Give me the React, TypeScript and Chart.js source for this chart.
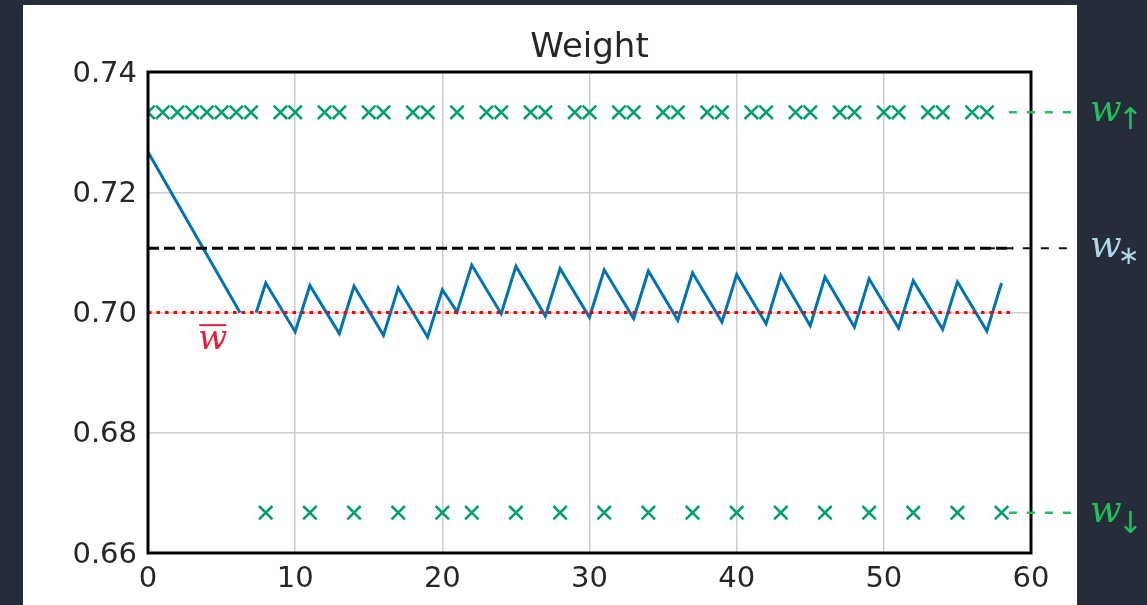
import React, { useEffect, useRef } from "react";
import { Chart, registerables } from "chart.js";

Chart.register(...registerables);

// Weight trajectory (x = step, y = weight); null y breaks the line
const weightX = [0, 6.25, 6.8, 7.35, 8, 10, 11, 13, 14, 16, 17, 19, 20, 21, 22, 24, 25, 27, 28, 30, 31, 33, 34, 36, 37, 39, 40, 42, 43, 45, 46, 48, 49, 51, 52, 54, 55, 57, 58];
const weightY: (number | null)[] = [0.7267, 0.7, null, 0.7, 0.7049, 0.6968, 0.7045, 0.6965, 0.7044, 0.6962, 0.7041, 0.6959, 0.7038, 0.7001, 0.7079, 0.6998, 0.7077, 0.6994, 0.7073, 0.6992, 0.7071, 0.699, 0.7069, 0.6987, 0.7066, 0.6984, 0.7063, 0.6981, 0.7062, 0.6978, 0.7059, 0.6976, 0.7056, 0.6974, 0.7053, 0.6972, 0.7051, 0.6969, 0.7049];

// Steps where weight goes up / down
const upSteps = [0, 1, 2, 3, 4, 5, 6, 7, 9, 10, 12, 13, 15, 16, 18, 19, 21, 23, 24, 26, 27, 29, 30, 32, 33, 35, 36, 38, 39, 41, 42, 44, 45, 47, 48, 50, 51, 53, 54, 56, 57];
const downSteps = [8, 11, 14, 17, 20, 22, 25, 28, 31, 34, 37, 40, 43, 46, 49, 52, 55, 58];

// Reference levels
const wUp = 0.7333;
const wDown = 0.6667;
const wStar = 0.7107;
const wBar = 0.7;
const refLineX = [0, 58.8];

// Axis
const xMin = 0, xMax = 60, xStep = 10;
const yMin = 0.66, yMax = 0.74, yStep = 0.02;
const titleText = "Weight";

// annotation anchors (data coords)
const wBarLabelX = 4.4;
const wBarLabelY = 0.6939;
const greenAnnotStartX = 58.5;
const starAnnotStartX = 57.0;

const BG = "#262c3a";
const TXT = "#262626";
const GREEN_LABEL = "#1ec25a";
const MARK = "#029e73";

export default function App() {
  const ref = useRef<HTMLCanvasElement>(null);
  useEffect(() => {
    document.body.style.margin = "0";
    document.body.style.background = BG;
    const canvas = ref.current!;
    const panelPlugin = {
      id: "panel",
      beforeDraw(chart: any) {
        const ctx = chart.ctx;
        ctx.save();
        ctx.fillStyle = BG;
        ctx.fillRect(0, 0, chart.width, chart.height);
        ctx.fillStyle = "#ffffff";
        ctx.fillRect(23, 5, 1077 - 23, chart.height - 5);
        ctx.restore();
      },
      afterDatasetsDraw(chart: any) {
        const { ctx, chartArea: a } = chart;
        ctx.save();
        ctx.strokeStyle = "#000";
        ctx.lineWidth = 3;
        ctx.strokeRect(a.left, a.top, a.right - a.left, a.bottom - a.top);
        ctx.restore();
      },
      afterDraw(chart: any) {
        const { ctx, chartArea: a, scales } = chart;
        const xs = scales.x, ys = scales.y;
        ctx.save();
        // title
        ctx.fillStyle = TXT;
        ctx.font = "34px 'DejaVu Sans'";
        ctx.textAlign = "center";
        ctx.textBaseline = "middle";
        ctx.fillText(titleText, (a.left + a.right) / 2, 48);

        const endX = 1074;
        // green annotation lines
        ctx.setLineDash([8, 10]);
        ctx.lineWidth = 2.5;
        ctx.strokeStyle = GREEN_LABEL;
        for (const v of [wUp, wDown]) {
          const y = ys.getPixelForValue(v);
          ctx.beginPath();
          ctx.moveTo(xs.getPixelForValue(greenAnnotStartX), y);
          ctx.lineTo(endX, y);
          ctx.stroke();
        }
        // thin black annotation
        ctx.strokeStyle = "#111";
        ctx.lineWidth = 2;
        {
          const y = ys.getPixelForValue(wStar);
          ctx.beginPath();
          ctx.moveTo(xs.getPixelForValue(starAnnotStartX), y);
          ctx.lineTo(endX, y);
          ctx.stroke();
        }
        ctx.setLineDash([]);

        // right labels
        const labelX = 1090;
        const drawW = (v: number, color: string, sub: string, subFont: string, subDy: number) => {
          const y = ys.getPixelForValue(v);
          ctx.fillStyle = color;
          ctx.font = "italic 37px 'DejaVu Serif'";
          ctx.textAlign = "left";
          ctx.textBaseline = "alphabetic";
          ctx.fillText("w", labelX, y + 9);
          const wWidth = ctx.measureText("w").width;
          ctx.font = subFont;
          ctx.textBaseline = "middle";
          ctx.fillText(sub, labelX + wWidth - 4, y + subDy);
        };
        drawW(wUp, GREEN_LABEL, "↑", "30px 'DejaVu Sans'", 9);
        drawW(wStar, "#add8e6", "∗", "26px 'DejaVu Sans'", 9);
        drawW(wDown, GREEN_LABEL, "↓", "30px 'DejaVu Sans'", 12);

        // w-bar label
        {
          const cx = xs.getPixelForValue(wBarLabelX);
          const by = ys.getPixelForValue(wBarLabelY);
          ctx.fillStyle = "#e0203a";
          ctx.strokeStyle = "#e0203a";
          ctx.font = "italic 34px 'DejaVu Serif'";
          ctx.textAlign = "center";
          ctx.textBaseline = "alphabetic";
          ctx.fillText("w", cx, by);
          const w = ctx.measureText("w").width;
          ctx.lineWidth = 2;
          ctx.beginPath();
          ctx.moveTo(cx - w / 2 + 1, by - 24);
          ctx.lineTo(cx + w / 2 - 1, by - 24);
          ctx.stroke();
        }
        ctx.restore();
      },
    };

    const weightData = weightX.map((x, i) => ({ x, y: weightY[i] }));
    const upData = upSteps.map((x) => ({ x, y: wUp }));
    const downData = downSteps.map((x) => ({ x, y: wDown }));
    const barData = refLineX.map((x) => ({ x, y: wBar }));
    const starData = refLineX.map((x) => ({ x, y: wStar }));

    const tickFont = { family: "'DejaVu Sans'", size: 29 };
    const chart = new Chart(canvas, {
      type: "line",
      data: {
        datasets: [
          { data: barData, borderColor: "#ff0000", borderWidth: 3, borderDash: [3.5, 5], pointRadius: 0, borderCapStyle: "butt" } as any,
          { data: starData, borderColor: "#000000", borderWidth: 3, borderDash: [11, 5], pointRadius: 0 } as any,
          { data: weightData, borderColor: "#0173b2", borderWidth: 3, pointRadius: 0, spanGaps: false } as any,
          { data: upData, showLine: false, pointStyle: "crossRot", pointRadius: 9.5, pointBorderWidth: 2.5, pointBorderColor: MARK, borderColor: MARK, backgroundColor: MARK } as any,
          { data: downData, showLine: false, pointStyle: "crossRot", pointRadius: 9.5, pointBorderWidth: 2.5, pointBorderColor: MARK, borderColor: MARK, backgroundColor: MARK } as any,
        ],
      },
      options: {
        responsive: false,
        animation: false,
        layout: { padding: { left: 0, right: 116, top: 72, bottom: 0 } },
        plugins: { legend: { display: false }, tooltip: { enabled: false }, title: { display: false } },
        scales: {
          x: {
            type: "linear",
            min: xMin,
            max: xMax,
            ticks: { stepSize: xStep, font: tickFont, color: TXT, padding: 9, maxRotation: 0 },
            grid: { color: "#cccccc", lineWidth: 1.5, drawTicks: false },
            border: { display: false },
            afterFit: (s: any) => { s.height = 52; },
          },
          y: {
            type: "linear",
            min: yMin,
            max: yMax,
            ticks: { stepSize: yStep, font: tickFont, color: TXT, padding: 11, labelOffset: 2, callback: (v: any) => Number(v).toFixed(2) },
            grid: { color: "#cccccc", lineWidth: 1.5, drawTicks: false },
            border: { display: false },
            afterFit: (s: any) => { s.width = 148; },
          },
        },
      } as any,
      plugins: [panelPlugin],
    });
    return () => chart.destroy();
  }, []);

  return (
    <div style={{ position: "fixed", left: 0, top: 0, width: 1147, height: 605, background: BG }}>
      <canvas ref={ref} width={1147} height={605} style={{ display: "block" }} />
    </div>
  );
}
